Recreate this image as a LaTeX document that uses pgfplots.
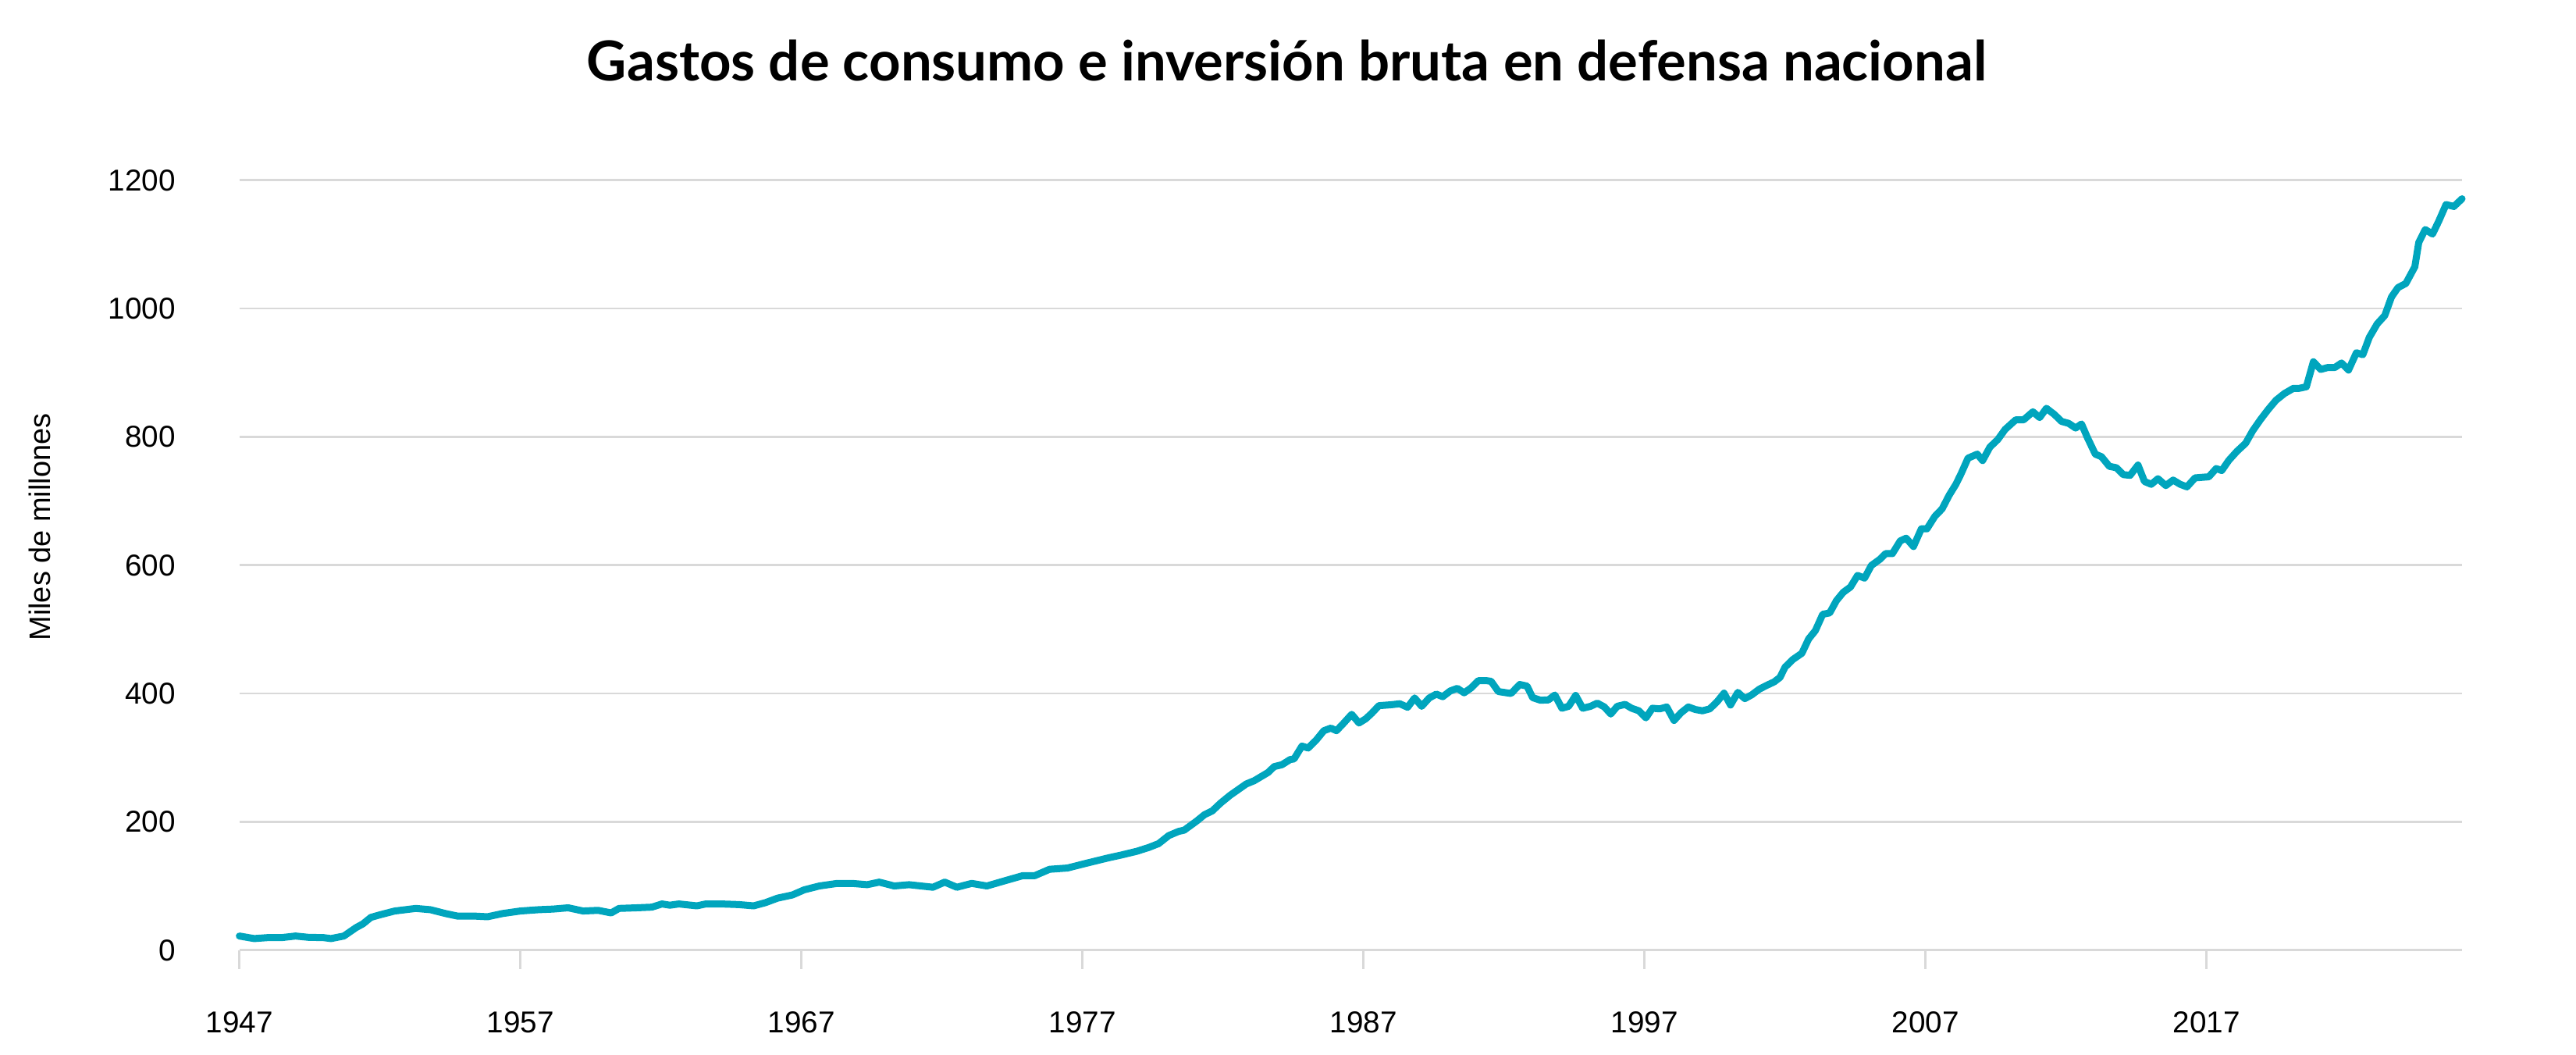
\documentclass[border=0pt]{standalone}
\usepackage{fontspec}
\setmainfont{Liberation Sans}
\newfontfamily\titlefont{Lato}
\usepackage{pgfplots}
\pgfplotsset{compat=1.18}
\usepackage{pgfplotstable}

\definecolor{linea}{RGB}{0,165,189}
\definecolor{rejilla}{RGB}{217,217,217}

% gastos de defensa nacional, miles de millones
\pgfplotstableread{
anio valor
1947.00 22
1947.53 18
1948.00 19.5
1948.50 19.5
1949.00 22
1949.45 20
1950.00 19.5
1950.26 18
1950.72 22
1951.15 35
1951.40 41
1951.68 51
1952.00 55
1952.53 61
1953.28 65
1953.80 63
1954.34 57
1954.77 53
1955.40 53
1955.83 52
1956.36 57
1957.00 61
1957.64 63
1958.17 64
1958.70 66
1959.23 61
1959.77 62
1960.23 58
1960.51 65
1961.15 66
1961.68 67
1962.04 72
1962.32 70
1962.64 72
1963.28 69
1963.60 72
1964.13 72
1964.77 71
1965.30 69
1965.72 74
1966.15 81
1966.68 86
1967.10 94
1967.64 100
1968.28 104
1968.80 104
1969.34 102
1969.77 106
1970.30 100
1970.83 102
1971.68 98
1972.10 106
1972.53 98
1973.06 104
1973.60 100
1974.23 108
1974.87 116
1975.30 116
1975.83 126
1976.47 128
1977.10 135
1977.94 144
1978.36 148
1978.93 154
1979.36 160
1979.71 166
1980.07 178.5
1980.42 185
1980.62 187
1981.06 201
1981.34 211
1981.62 217
1981.91 229
1982.26 241.5
1982.83 259
1983.11 264
1983.61 277
1983.82 286
1984.10 289
1984.39 297
1984.53 298
1984.81 318
1985.03 315
1985.31 327
1985.59 342
1985.84 346
1986.04 342
1986.30 354
1986.58 367.5
1986.84 354
1987.08 360.5
1987.29 369
1987.55 381
1988.00 382.5
1988.29 384
1988.57 378.5
1988.82 393
1989.07 380
1989.34 393
1989.59 399
1989.82 395
1990.09 404
1990.34 408
1990.58 401
1990.84 409
1991.09 420
1991.37 420
1991.54 419
1991.80 403
1992.25 400
1992.56 414
1992.82 411.5
1993.02 393.5
1993.30 389.5
1993.58 390
1993.81 397.6
1994.06 377
1994.30 380
1994.55 397
1994.80 377
1995.08 380
1995.32 385
1995.57 379
1995.80 368
1996.03 380
1996.31 383
1996.54 377
1996.80 373
1997.05 362
1997.28 377
1997.54 376
1997.79 379
1998.05 358
1998.30 370
1998.56 379
1998.81 375
1999.06 373
1999.32 376
1999.58 387
1999.83 400.5
2000.06 382
2000.32 401.7
2000.57 392
2000.82 398
2001.08 406.6
2001.35 412.7
2001.61 418
2001.82 425
2002.00 441
2002.28 453
2002.60 462.7
2002.84 485
2003.08 498
2003.34 523.4
2003.59 525.6
2003.83 544.8
2004.07 557.6
2004.33 566
2004.58 584
2004.83 579.8
2005.07 599.4
2005.39 609.6
2005.58 618
2005.82 618
2006.10 637.8
2006.31 642
2006.57 629
2006.85 656.6
2007.05 656.6
2007.33 676
2007.59 687.8
2007.84 709
2008.08 726
2008.27 743
2008.51 766.7
2008.84 773
2009.03 763
2009.29 784
2009.57 795.7
2009.83 811.5
2010.21 826.5
2010.49 826.5
2010.82 839
2011.06 830
2011.30 844.4
2011.58 835
2011.84 824
2012.09 821
2012.34 813.7
2012.55 820
2012.76 798.7
2013.04 773
2013.26 769
2013.54 754
2013.79 751.8
2014.04 741
2014.28 740
2014.56 756
2014.79 730.4
2015.03 726
2015.27 734.7
2015.55 724
2015.81 732.6
2016.06 726
2016.30 722
2016.59 736
2017.08 737.7
2017.34 750.5
2017.54 747.5
2017.79 763.3
2018.08 777.4
2018.39 790
2018.64 809.4
2018.92 827
2019.20 843
2019.47 857
2019.77 867.5
2020.09 875.6
2020.30 875.6
2020.55 878
2020.80 917
2021.06 905
2021.31 908
2021.56 908
2021.80 915
2022.05 904
2022.33 931
2022.56 928
2022.79 955
2023.07 976
2023.34 989
2023.58 1018
2023.81 1032.5
2024.09 1039
2024.41 1065
2024.55 1103
2024.78 1123
2025.04 1116
2025.26 1136
2025.52 1162
2025.80 1159
2026.09 1171
}\defensa

\begin{document}
\begin{tikzpicture}
\useasboundingbox (0,0) rectangle (330mm,135mm);
\begin{axis}[
    at={(30.66mm,13.33mm)}, anchor=south west,
    scale only axis, width=284.74mm, height=98.6mm,
    xmin=1947, xmax=2026.09, ymin=0, ymax=1200,
    axis lines*=left,
    x axis line style={draw=rejilla, line width=0.33mm},
    y axis line style={draw=none},
    tick align=outside,
    major tick length=2.4mm,
    xtick={1947,1957,1967,1977,1987,1997,2007,2017},
    xticklabels={1947,1957,1967,1977,1987,1997,2007,2017},
    ytick={0,200,400,600,800,1000,1200},
    yticklabels={0,200,400,600,800,1000,1200},
    xtick style={draw=rejilla, line width=0.27mm},
    ytick style={draw=none},
    tick label style={font=\fontsize{11}{13}\selectfont},
    xticklabel style={anchor=base, yshift=-8.2mm},
    yticklabel style={anchor=east, inner sep=0pt, xshift=-5.7mm},
    ymajorgrids,
    grid style={rejilla, line width=0.27mm},
    clip=false,
    ]
    \addplot[linea, line width=0.9mm, line join=round, line cap=round]
        table[x=anio, y=valor] {\defensa};
\end{axis}
\node[font=\titlefont\bfseries\fontsize{20.1}{24}\selectfont, anchor=base]
    at (164.85mm,124.6mm) {Gastos de consumo e inversión bruta en defensa nacional};
\node[rotate=90, font=\fontsize{10.8}{12}\selectfont] at (5.13mm,67.5mm) {Miles de millones};
\end{tikzpicture}
\end{document}
